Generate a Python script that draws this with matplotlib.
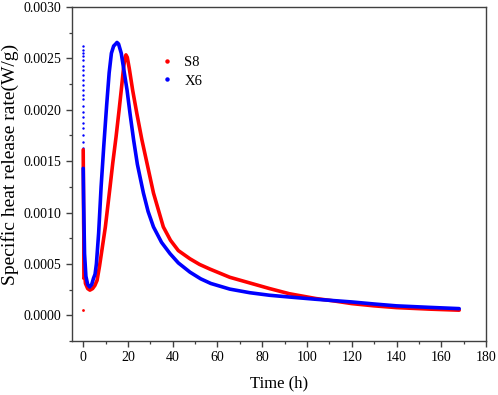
"""Specific heat release rate of S8 and X6 over time."""

import matplotlib.pyplot as plt
from matplotlib.lines import Line2D
from matplotlib.ticker import MultipleLocator

x6_start_y = [
    0.00262, 0.00258, 0.00255, 0.00252, 0.00248, 0.00243, 0.00239, 0.00234,
    0.00229, 0.00224, 0.00219, 0.00214, 0.00210, 0.00204, 0.00198, 0.00193,
    0.00187, 0.00182, 0.00175, 0.00169, 0.00163, 0.00157, 0.00150, 0.00143,
]
s8_start_y = [0.00005, 0.00036]
s8_column_t = [0.0, 0.0]
s8_column_y = [0.00161, 0.00036]

# S8 (red) curve
s8_time = [
    0.0, 0.2, 0.5, 1.0, 2.0, 3.0, 4.2, 5.2, 6.2, 7.3, 8.4, 9.9, 12.0, 13.2,
    14.7, 16.0, 17.0, 18.0, 18.6, 19.1, 19.7, 20.6, 22.1, 24.0, 26.2, 28.6,
    31.4, 35.8, 39.0, 42.5, 47.7, 52.0, 56.6, 65.5, 74.4, 83.3, 92.1, 104.0,
    112.0, 120.0, 130.0, 140.0, 155.0, 168.0,
]
s8_rate = [
    0.00161, 0.00090, 0.00045, 0.00031, 0.00026, 0.000245, 0.00026, 0.00029,
    0.00034, 0.00048, 0.00064, 0.00086, 0.00125, 0.00148, 0.00174, 0.00199,
    0.00219, 0.00240, 0.00250, 0.002534, 0.00251, 0.00240, 0.00219, 0.00196,
    0.00171, 0.00147, 0.00119, 0.00086, 0.00073, 0.00063, 0.00055, 0.000495,
    0.00045, 0.00037, 0.000315, 0.00026, 0.00021, 0.000163, 0.00014, 0.000114,
    0.000092, 0.000075, 0.00006, 0.00005,
]

# X6 (blue) curve
x6_time = [
    0.0, 0.2, 0.6, 1.2, 2.0, 2.9, 3.8, 4.6, 5.3, 5.9, 6.9, 8.0, 9.2, 10.5,
    11.6, 12.6, 13.6, 14.5, 15.1, 15.8, 17.0, 18.3, 19.6, 21.0, 22.5, 24.2,
    26.9, 29.0, 31.4, 35.0, 38.8, 42.5, 47.7, 52.5, 57.0, 65.5, 74.4, 83.3,
    92.1, 104.0, 112.0, 120.0, 130.0, 140.0, 155.0, 168.0,
]
x6_rate = [
    0.00143, 0.00110, 0.00060, 0.00038, 0.00030, 0.000276, 0.00030, 0.00036,
    0.00040, 0.00050, 0.00080, 0.00125, 0.00165, 0.00205, 0.00236, 0.00255,
    0.00262, 0.00264, 0.002655, 0.00264, 0.00255, 0.00237, 0.00219, 0.00195,
    0.00171, 0.00147, 0.00119, 0.00101, 0.00086, 0.00071, 0.00060, 0.00051,
    0.00042, 0.000355, 0.00031, 0.000255, 0.00022, 0.000195, 0.000178,
    0.000156, 0.000143, 0.00013, 0.00011, 0.000092, 0.000077, 0.000065,
]

RED = "#FF0000"
BLUE = "#0000FF"

plt.rcParams.update(
    {
        "font.family": ["Liberation Serif", "DejaVu Serif"],
        "font.size": 10,
        "axes.edgecolor": "#404040",
        "axes.linewidth": 1.0,
    }
)

fig = plt.figure(figsize=(4.98, 3.95), dpi=100)
ax = fig.add_axes([0.1446, 0.1367, 0.8314, 0.8456])

line_style = {"linewidth": 2.6, "solid_capstyle": "round", "solid_joinstyle": "round"}
ax.plot(s8_column_t, s8_column_y, color=RED, linewidth=1.3)
ax.plot(s8_time, s8_rate, color=RED, **line_style)
ax.plot(x6_time, x6_rate, color=BLUE, **line_style)
ax.scatter([0] * len(x6_start_y), x6_start_y, s=3, color=BLUE, linewidths=0)
ax.scatter([0] * len(s8_start_y), s8_start_y, s=4, color=RED, linewidths=0)

ax.set_xlim(-5, 180)
ax.set_ylim(-0.00025, 0.0030)
ax.xaxis.set_major_locator(MultipleLocator(20))
ax.xaxis.set_minor_locator(MultipleLocator(10))
ax.yaxis.set_major_locator(MultipleLocator(0.0005))
ax.yaxis.set_minor_locator(MultipleLocator(0.00025))
ax.yaxis.set_major_formatter(plt.FormatStrFormatter("%.4f"))
ax.tick_params(which="major", direction="out", length=4, width=1.0, color="#404040")
ax.tick_params(which="minor", direction="out", length=2.5, width=0.9, color="#404040")

ax.set_xlabel("Time (h)", fontsize=12, labelpad=8)
ax.set_ylabel("Specific heat release rate(W/g)", fontsize=14)
ax.yaxis.set_label_coords(-0.128, 0.53)

handles = [
    Line2D([], [], linestyle="none", marker="o", markersize=2.2, color=RED, label="S8"),
    Line2D([], [], linestyle="none", marker="o", markersize=2.2, color=BLUE, label="X6"),
]
ax.legend(
    handles=handles,
    loc="upper left",
    bbox_to_anchor=(0.19, 0.875),
    frameon=False,
    fontsize=10.5,
    borderpad=0,
    handlelength=1.2,
    handletextpad=0.6,
    labelspacing=0.35,
)

fig.savefig("out.png", dpi=100)
